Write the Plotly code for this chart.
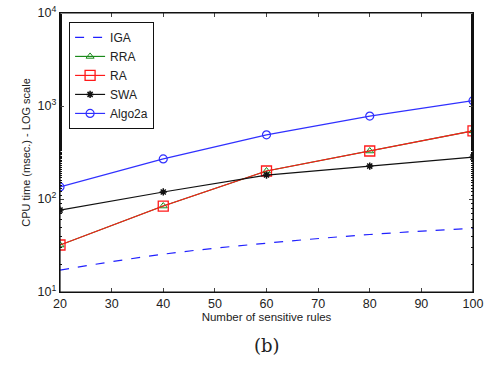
import plotly.graph_objects as go

x_rules = [20, 40, 60, 80, 100]
iga = [17.2, 25.5, 33.5, 41.5, 48.5]
rra = [32, 84, 200, 328, 540]
ra = [32, 84, 200, 328, 540]
swa = [76, 119, 181, 226, 282]
algo2a = [135, 270, 490, 780, 1140]

y_tickvals = [10, 100, 1000, 10000]
y_ticktext = ["10<sup>1</sup>", "10<sup>2</sup>", "10<sup>3</sup>", "10<sup>4</sup>"]
x_tickvals = [20, 30, 40, 50, 60, 70, 80, 90, 100]

fig = go.Figure()
fig.add_trace(go.Scatter(x=x_rules, y=iga, name="IGA", mode="lines",
                         line=dict(color="#2020ff", width=1.2, dash="dash", shape="spline")))
fig.add_trace(go.Scatter(x=x_rules, y=rra, name="RRA", mode="lines+markers",
                         line=dict(color="#1a8a1a", width=1.2),
                         marker=dict(symbol="triangle-up-open", size=7, color="#1a8a1a")))
fig.add_trace(go.Scatter(x=x_rules, y=ra, name="RA", mode="lines+markers",
                         line=dict(color="#ff1a1a", width=1.2),
                         marker=dict(symbol="square-open", size=10, color="#ff1a1a", line=dict(width=1.3))))
fig.add_trace(go.Scatter(x=x_rules, y=swa, name="SWA", mode="lines+markers",
                         line=dict(color="#111111", width=1.2),
                         marker=dict(symbol="asterisk-open", size=6, color="#111111", line=dict(width=1.5))))
fig.add_trace(go.Scatter(x=x_rules, y=algo2a, name="Algo2a", mode="lines+markers",
                         line=dict(color="#3030ff", width=1.2),
                         marker=dict(symbol="circle-open", size=8, color="#3030ff", line=dict(width=1.2))))

fig.update_layout(
    width=486, height=365,
    paper_bgcolor="white", plot_bgcolor="white",
    margin=dict(l=60, r=13, t=13, b=73, autoexpand=False),
    font=dict(family="Liberation Sans, Arial", size=12, color="#222"),
    showlegend=True,
    legend=dict(x=0.022, y=0.968, xanchor="left", yanchor="top",
                bordercolor="#111", borderwidth=1, bgcolor="white",
                font=dict(size=12), tracegroupgap=0, itemwidth=30),
    xaxis=dict(range=[20, 100], tickvals=x_tickvals, ticks="inside", ticklen=4,
               showline=True, linecolor="#111", linewidth=1.2, mirror="allticks",
               showgrid=False, zeroline=False, automargin=False,
               title=dict(text="Number of sensitive rules", standoff=2, font=dict(size=11.5)),
               tickfont=dict(size=12.5)),
    yaxis=dict(type="log", range=[1, 4], tickvals=y_tickvals, ticktext=y_ticktext,
               ticks="inside", ticklen=4,
               showline=True, linecolor="#111", linewidth=1.2, mirror="allticks",
               showgrid=False, zeroline=False, automargin=False,
               minor=dict(ticks="inside", ticklen=2, tickcolor="#111", showgrid=False),
               title=dict(text="CPU time (msec.) - LOG scale", standoff=4, font=dict(size=11)),
               tickfont=dict(size=12.5)),
)
fig.add_shape(type="rect", xref="paper", yref="paper", x0=0, y0=0, x1=1, y1=1,
              line=dict(color="#111", width=1.2), fillcolor="rgba(0,0,0,0)", layer="above")
fig.add_annotation(text="(b)", xref="paper", yref="paper", x=0.5, y=-0.19,
                   xanchor="center", yanchor="middle", showarrow=False,
                   font=dict(family="DejaVu Serif, Liberation Serif", size=18, color="#222"))
fig.write_html("out.html", config={"displayModeBar": False},
               post_script="document.body.style.margin='0';document.body.style.overflow='hidden';")
